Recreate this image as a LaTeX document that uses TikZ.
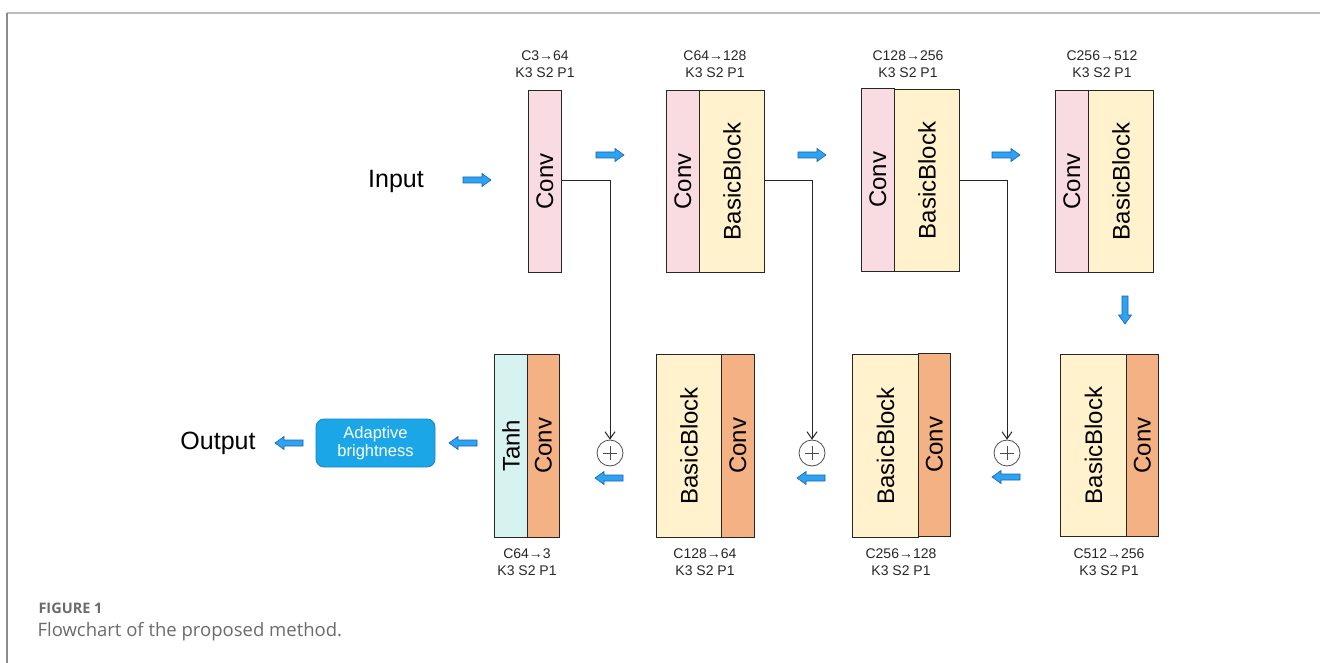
\documentclass[tikz,border=0pt]{standalone}
\usepackage{fontspec}
\setmainfont{Liberation Sans}
\newfontfamily\capfont{Open Sans}
\usetikzlibrary{arrows.meta}
\definecolor{convpink}{HTML}{F9DCE1}
\definecolor{bbyellow}{HTML}{FFF2CC}
\definecolor{convorange}{HTML}{F4B183}
\definecolor{tanhcyan}{HTML}{D6F3F1}
\definecolor{arrblue}{HTML}{2EA3F0}
\definecolor{arredge}{HTML}{1A5FB8}
\definecolor{abfill}{HTML}{1BA6E8}
\definecolor{abedge}{HTML}{1585C8}
\definecolor{framegray}{HTML}{BDBDBD}
\definecolor{capgray}{HTML}{6B6B6B}
\begin{document}
\begin{tikzpicture}[x=1pt,y=-1pt,
  blk/.style={draw=black!85, line width=0.9pt, inner sep=0pt, anchor=north west},
  cpink/.style={blk, fill=convpink},
  cbb/.style={blk, fill=bbyellow},
  corange/.style={blk, fill=convorange},
  ctanh/.style={blk, fill=tanhcyan},
  vtxt/.style={font=\fontsize{24}{24}\selectfont, rotate=90},
  lbl/.style={font=\fontsize{14}{17}\selectfont, align=center, text=black!85},
  bigtxt/.style={font=\fontsize{25}{25}\selectfont},
  skip/.style={draw=black!85, line width=1pt},
  plus/.style={circle, draw=black!70, line width=0.8pt, minimum size=26pt, inner sep=0pt},
  barrow/.pic={
    \filldraw[fill=arrblue, draw=arredge, line width=0.6pt]
      (-14,-3) -- (5,-3) -- (5,-6.5) -- (14,0) -- (5,6.5) -- (5,3) -- (-14,3) -- cycle;
  }
]
\useasboundingbox (0,0) rectangle (1320,663);
% frame
\draw[framegray, line width=1.5pt] (7,13) -- (1320,13);
\draw[black!45, line width=1.2pt] (7,13) -- (7,663);

% ---------- top row ----------
\node[bigtxt] (input) at (396,181) {Input};
\pic (a0) at (477,180) {barrow};

\node[cpink, minimum width=33pt, minimum height=182pt] (c1) at (528,90) {};
\node[vtxt] at (c1.center) {Conv};
\node[lbl] (l1) at (545,64) {C3→64\\K3 S2 P1};

\pic (a1) at (610,155) {barrow};

\node[cpink, minimum width=33pt, minimum height=182pt] (c2) at (666,90) {};
\node[cbb, minimum width=65pt, minimum height=182pt] (b2) at (699,90) {};
\node[vtxt] at (c2.center) {Conv};
\node[vtxt] at (b2.center) {BasicBlock};
\node[lbl] (l2) at (715,64) {C64→128\\K3 S2 P1};

\pic (a2) at (812,155) {barrow};

\node[cpink, minimum width=33pt, minimum height=183pt] (c3) at (861,88) {};
\node[cbb, minimum width=65pt, minimum height=182pt] (b3) at (894,89) {};
\node[vtxt] at (c3.center) {Conv};
\node[vtxt] at (b3.center) {BasicBlock};
\node[lbl] (l3) at (908,64) {C128→256\\K3 S2 P1};

\pic (a3) at (1006,155) {barrow};

\node[cpink, minimum width=33pt, minimum height=182pt] (c4) at (1055,90) {};
\node[cbb, minimum width=65pt, minimum height=182pt] (b4) at (1088,90) {};
\node[vtxt] at (c4.center) {Conv};
\node[vtxt] at (b4.center) {BasicBlock};
\node[lbl] (l4) at (1102,64) {C256→512\\K3 S2 P1};

\pic[rotate=-90] (a4) at (1125,310) {barrow};

% ---------- bottom row ----------
\node[cbb, minimum width=66pt, minimum height=182pt] (b5) at (1060,354) {};
\node[corange, minimum width=32pt, minimum height=182pt] (c5) at (1126,354) {};
\node[vtxt] at (b5.center) {BasicBlock};
\node[vtxt] at (c5.center) {Conv};
\node[lbl] (l5) at (1109,562) {C512→256\\K3 S2 P1};

\node[plus] (p3) at (1007,453) {};
\draw[black!70, line width=0.8pt] ([xshift=-7pt]p3.center) -- ([xshift=7pt]p3.center)
  ([yshift=-7pt]p3.center) -- ([yshift=7pt]p3.center);
\pic[rotate=180] (a5) at (1006,477) {barrow};

\node[cbb, minimum width=66pt, minimum height=183pt] (b6) at (852,354) {};
\node[corange, minimum width=32pt, minimum height=183pt] (c6) at (918,353) {};
\node[vtxt] at (b6.center) {BasicBlock};
\node[vtxt] at (c6.center) {Conv};
\node[lbl] (l6) at (901,562) {C256→128\\K3 S2 P1};

\node[plus] (p2) at (812,453) {};
\draw[black!70, line width=0.8pt] ([xshift=-7pt]p2.center) -- ([xshift=7pt]p2.center)
  ([yshift=-7pt]p2.center) -- ([yshift=7pt]p2.center);
\pic[rotate=180] (a6) at (811,478) {barrow};

\node[cbb, minimum width=65pt, minimum height=183pt] (b7) at (656,354) {};
\node[corange, minimum width=33pt, minimum height=183pt] (c7) at (721,354) {};
\node[vtxt] at (b7.center) {BasicBlock};
\node[vtxt] at (c7.center) {Conv};
\node[lbl] (l7) at (705,562) {C128→64\\K3 S2 P1};

\node[plus] (p1) at (610,453) {};
\draw[black!70, line width=0.8pt] ([xshift=-7pt]p1.center) -- ([xshift=7pt]p1.center)
  ([yshift=-7pt]p1.center) -- ([yshift=7pt]p1.center);
\pic[rotate=180] (a7) at (609,478) {barrow};

\node[ctanh, minimum width=33pt, minimum height=183pt] (t8) at (494,354) {};
\node[corange, minimum width=32pt, minimum height=183pt] (c8) at (527,354) {};
\node[vtxt] at (t8.center) {Tanh};
\node[vtxt] at (c8.center) {Conv};
\node[lbl] (l8) at (527,562) {C64→3\\K3 S2 P1};

\pic[rotate=180] (a8) at (463,443) {barrow};
\node[draw=abedge, fill=abfill, rounded corners=8pt, line width=0.8pt,
  minimum width=119pt, minimum height=48pt, align=center, text=white,
  font=\fontsize{16.5}{18}\selectfont] (ab) at (375.5,443) {Adaptive\\brightness};
\pic[rotate=180] (a9) at (289,443) {barrow};
\node[bigtxt] (output) at (218,443) {Output};

% ---------- skip connections ----------
\draw[skip, -{Straight Barb[length=7pt,width=10pt]}] ([yshift=1pt]c1.east) -| (p1.north);
\draw[skip, -{Straight Barb[length=7pt,width=10pt]}] ([yshift=1pt]b2.east) -| (p2.north);
\draw[skip, -{Straight Barb[length=7pt,width=10pt]}] (b3.east) -| (p3.north);

% ---------- caption ----------
\node[anchor=west, text=capgray, font=\capfont\bfseries\fontsize{14.5}{16}\selectfont] (figlbl) at (35,608) {FIGURE 1};
\node[anchor=west, text=capgray, font=\capfont\fontsize{18.5}{21}\selectfont] (caption) at (34,632) {Flowchart of the proposed method.};
\end{tikzpicture}
\end{document}
